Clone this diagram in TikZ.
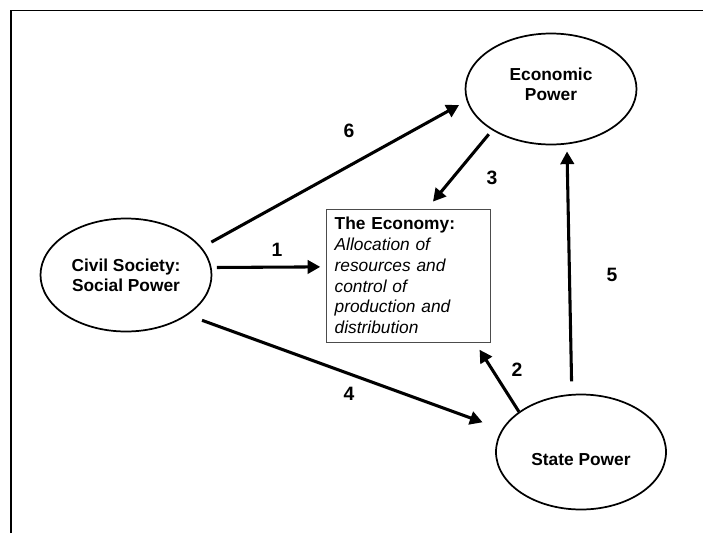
\documentclass[tikz,border=0pt]{standalone}
\usepackage{fontspec}
\setmainfont{Liberation Sans}
\usetikzlibrary{arrows.meta,shapes.geometric}

\begin{document}
\begin{tikzpicture}[x=0.75pt,y=-0.75pt,>={Triangle[length=9.5pt,width=10pt]},
  power/.style={ellipse,draw,line width=1.3pt,align=center,
    font=\fontsize{13}{15}\selectfont\bfseries},
  flow/.style={->,line width=2.3pt},
  num/.style={font=\fontsize{14.5}{16}\selectfont\bfseries}]

  \useasboundingbox (0,0) rectangle (703,533);
  \draw[line width=1pt] (11,533) -- (11,10.5) -- (703,10.5);

  \node[power,minimum width=128.25pt,minimum height=83.25pt,text height=18pt,text depth=1.1pt] (econ) at (551,89) {Economic\\Power};
  \node[power,minimum width=128.25pt,minimum height=84.75pt] (civil) at (126,275) {Civil Society:\\Social Power};
  \node[power,minimum width=127.5pt,minimum height=86.25pt,text height=19.9pt,text depth=0pt] (state) at (581,452) {State Power};
  \node[draw=black!70,line width=0.6pt,minimum width=123pt,minimum height=99.75pt,
    text width=110pt,inner xsep=6.5pt,align=left,font=\fontsize{13}{15.6}\selectfont]
    (economy) at (408,275.5) {\textbf{The Economy:}\\\textit{Allocation of}\\\textit{resources and}\\
    \textit{control of}\\\textit{production and}\\\textit{distribution}};

  \path[flow] (civil.5) edge[shorten <=4pt,shorten >=4pt] (economy.174);
  \path[flow] (state.147) edge[shorten >=6.5pt] (economy.-45);
  \path[flow] (econ.215) edge[shorten <=3.9pt,shorten >=6.8pt] (economy.74);
  \path[flow] (civil.-33) edge[shorten <=11.4pt,shorten >=15.4pt] (state.164);
  \path[flow] (state.99) edge[shorten <=9.4pt,shorten >=5.3pt] (econ.-74);
  \path[flow] (civil.20) edge[shorten <=8.25pt,shorten >=6.4pt] (econ.188);

  \node[num] (n1) at (277,250) {1};
  \node[num] (n2) at (517,370) {2};
  \node[num] (n3) at (492,178) {3};
  \node[num] (n4) at (349,394) {4};
  \node[num] (n5) at (612,275) {5};
  \node[num] (n6) at (349,131) {6};
\end{tikzpicture}
\end{document}
